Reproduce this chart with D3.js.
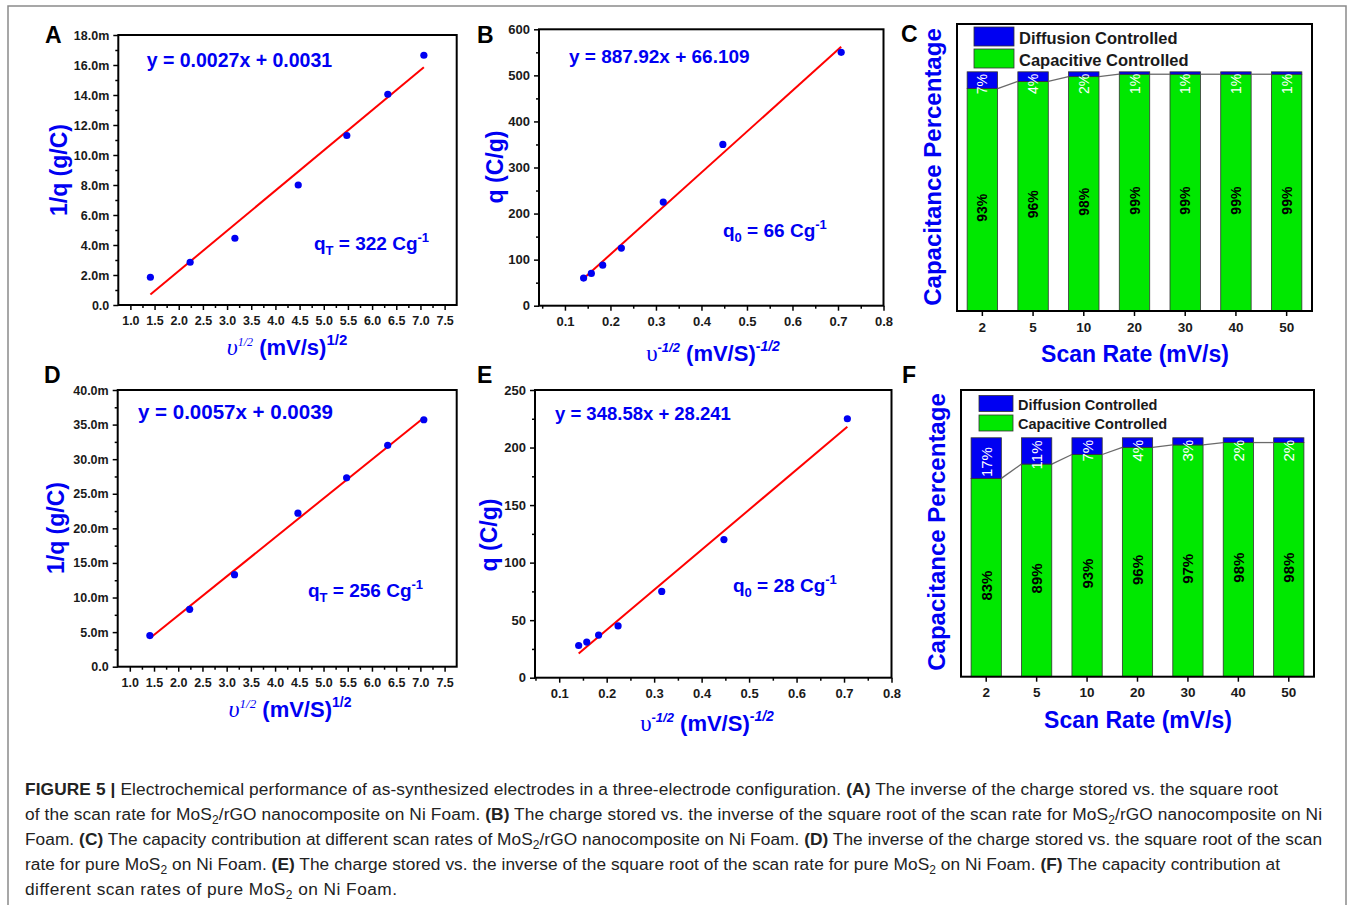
<!DOCTYPE html>
<html>
<head>
<meta charset="utf-8">
<script src="https://cdn.jsdelivr.net/npm/d3@7/dist/d3.min.js"></script>
<style>
body{margin:0;background:#fff;}
svg{display:block;font-family:"Liberation Sans",Arial,Helvetica,sans-serif;}
</style>
</head>
<body>
<script>
// ---- data ----
var scanRates = ["2","5","10","20","30","40","50"];
var sqrtRate = [1.414, 2.236, 3.162, 4.472, 5.477, 6.325, 7.071];     // v^1/2
var invSqrtRate = [0.707, 0.447, 0.316, 0.224, 0.183, 0.158, 0.141];  // v^-1/2

// A : 1/q (milli g/C) for MoS2/rGO
var invQ_A = [1.85, 2.85, 4.45, 8.0, 11.3, 14.05, 16.65];
var fitA = [[1.414, 0.7], [7.071, 15.85]];
// B : q (C/g) for MoS2/rGO
var q_B = [550, 350, 225, 125, 88, 70, 60];
var fitB = [[0.141, 59], [0.707, 562]];
// C : capacity contribution MoS2/rGO (%)
var diff_C = [7, 4, 2, 1, 1, 1, 1];
var cap_C = [93, 96, 98, 99, 99, 99, 99];
// D : 1/q (milli g/C) for pure MoS2
var invQ_D = [4.5, 8.3, 13.3, 22.2, 27.3, 32.0, 35.7];
var fitD = [[1.414, 4.1], [7.071, 36.0]];
// E : q (C/g) for pure MoS2
var q_E = [225, 120, 75, 45, 37, 31, 28];
var fitE = [[0.141, 21], [0.707, 218]];
// F : capacity contribution pure MoS2 (%)
var diff_F = [17, 11, 7, 4, 3, 2, 2];
var cap_F = [83, 89, 93, 96, 97, 98, 98];

// ticks
var xTicksSqrt = [1.0,1.5,2.0,2.5,3.0,3.5,4.0,4.5,5.0,5.5,6.0,6.5,7.0,7.5];
var xTicksInv = [0.1,0.2,0.3,0.4,0.5,0.6,0.7,0.8];
var yTicksA = [0,2,4,6,8,10,12,14,16,18];
var yTicksB = [0,100,200,300,400,500,600];
var yTicksD = [0,5,10,15,20,25,30,35,40];
var yTicksE = [0,50,100,150,200,250];

var BLUE = "#0000f2", RED = "#ff0000", GREEN = "#00e800", TXT = "#1a1a1a";

var svg = d3.select("body").append("svg")
	.attr("width",1354).attr("height",905);
svg.append("rect").attr("width",1354).attr("height",905).attr("fill","#fff");

// outer frame of the figure
svg.append("path").attr("d","M8,905V6H1346V905")
	.attr("fill","none").attr("stroke","#8a8a8a").attr("stroke-width",1.5);

//rich text helper: parts = [{t, sh, fs, it, ff, fw}]
function rich(t, parts){
	var cur = 0;
	parts.forEach(function(p){
		var s = t.append("tspan").text(p.t);
		var sh = p.sh || 0;
		if(sh !== cur){ s.attr("dy", sh-cur); cur = sh; }
		if(p.fs) s.attr("font-size", p.fs);
		if(p.it) s.attr("font-style","italic");
		if(p.ff) s.attr("font-family", p.ff);
		if(p.fw) s.attr("font-weight", p.fw);
	});
	return t;
}

function minorOf(ticks, step){
	var out = [];
	ticks.forEach(function(t){ out.push(t+step/2); });
	out.unshift(ticks[0]-step/2);
	return out;
}

function styleAxis(g, fs){
	g.select(".domain").remove();
	g.selectAll("line").attr("stroke","#000").attr("stroke-width",1.5);
	g.selectAll("text").attr("font-size",fs).attr("font-weight","bold").attr("fill",TXT).attr("font-family","Liberation Sans, Arial, sans-serif");
}

function scatterPanel(o){
	var g = svg.append("g");
	var x = d3.scaleLinear().domain(o.xDomain).range([o.left,o.right]);
	var y = d3.scaleLinear().domain(o.yDomain).range([o.bottom,o.top]);

	var xMin = minorOf(o.xTicks, o.xStep).filter(function(v){return v>o.xDomain[0]&&v<o.xDomain[1];});
	var yMin = minorOf(o.yTicks, o.yStep).filter(function(v){return v>o.yDomain[0]&&v<o.yDomain[1];});

	g.append("g").attr("transform","translate(0,"+o.bottom+")")
		.call(d3.axisBottom(x).tickValues(xMin).tickSize(3).tickFormat(""))
		.call(styleAxis, o.tickFs);
	g.append("g").attr("transform","translate(0,"+o.bottom+")")
		.call(d3.axisBottom(x).tickValues(o.xTicks).tickSize(5).tickPadding(6).tickFormat(d3.format(".1f")))
		.call(styleAxis, o.tickFs);
	g.append("g").attr("transform","translate("+o.left+",0)")
		.call(d3.axisLeft(y).tickValues(yMin).tickSize(3).tickFormat(""))
		.call(styleAxis, o.tickFs);
	g.append("g").attr("transform","translate("+o.left+",0)")
		.call(d3.axisLeft(y).tickValues(o.yTicks).tickSize(5).tickPadding(4).tickFormat(o.yFmt))
		.call(styleAxis, o.tickFs);

	g.append("rect")
		.attr("x",o.left).attr("y",o.top)
		.attr("width",o.right-o.left).attr("height",o.bottom-o.top)
		.attr("fill","none").attr("stroke","#000").attr("stroke-width",2);

	g.append("path").datum(o.fit)
		.attr("d", d3.line().x(function(d){return x(d[0]);}).y(function(d){return y(d[1]);}))
		.attr("stroke",RED).attr("stroke-width",2).attr("fill","none");

	g.selectAll("circle.pt").data(d3.zip(o.xs,o.ys)).enter()
		.append("circle").attr("class","pt")
		.attr("cx",function(d){return x(d[0]);})
		.attr("cy",function(d){return y(d[1]);})
		.attr("r",3.6).attr("fill",BLUE);

	// equation + q label
	g.append("text").attr("x",o.eq.x).attr("y",o.eq.y)
		.attr("font-size",o.eq.fs).attr("font-weight","bold").attr("fill",BLUE)
		.text(o.eq.t);
	rich(g.append("text").attr("x",o.q.x).attr("y",o.q.y)
		.attr("font-size",19).attr("font-weight","bold").attr("fill",BLUE), [
		{t:"q"},{t:o.q.sub,fs:13,sh:5},{t:" = "+o.q.val+" Cg"},{t:"-1",fs:13,sh:-8}
	]);

	// titles
	g.append("text").attr("transform","translate("+o.yTitle.x+","+o.yTitle.y+") rotate(-90)")
		.attr("text-anchor","middle").attr("font-size",23).attr("font-weight","bold").attr("fill",BLUE)
		.text(o.yTitle.t);
	rich(g.append("text").attr("x",o.xTitle.x).attr("y",o.xTitle.y)
		.attr("text-anchor","middle").attr("font-size",22).attr("font-weight","bold").attr("fill",BLUE), o.xTitle.parts);

	g.append("text").attr("x",o.letter.x).attr("y",o.letter.y)
		.attr("font-size",23).attr("font-weight","bold").attr("fill","#000").text(o.letter.t);
}

function barPanel(o){
	var g = svg.append("g");
	var x = d3.scaleBand().domain(scanRates).range([o.left,o.right]).paddingInner(0.4).paddingOuter(0.2);
	var y = d3.scaleLinear().domain([0,120]).range([o.bottom,o.top]);
	var rows = scanRates.map(function(r,i){ return {rate:r, cap:o.cap[i], diff:o.diff[i]}; });
	var series = d3.stack().keys(["cap","diff"])(rows);
	var colors = {cap:GREEN, diff:BLUE};
	var bw = x.bandwidth();

	g.append("g").attr("transform","translate(0,"+o.bottom+")")
		.call(d3.axisBottom(x).tickSize(5).tickPadding(6))
		.call(styleAxis, 13.5);

	series.forEach(function(s){
		g.selectAll("rect."+s.key).data(s).enter().append("rect")
			.attr("class",s.key)
			.attr("x",function(d){return x(d.data.rate);})
			.attr("y",function(d){return y(Math.min(d[1],100));})
			.attr("width",bw)
			.attr("height",function(d){return y(d[0])-y(Math.min(d[1],100));})
			.attr("fill",colors[s.key]).attr("stroke","#333").attr("stroke-width",0.8);
	});

	// connecting line between capacitive tops
	for(var i=0;i<rows.length-1;i++){
		g.append("line")
			.attr("x1",x(rows[i].rate)+bw).attr("y1",y(rows[i].cap))
			.attr("x2",x(rows[i+1].rate)).attr("y2",y(rows[i+1].cap))
			.attr("stroke","#6a6a6a").attr("stroke-width",1.3);
	}

	// percentage labels
	rows.forEach(function(d){
		var cx = x(d.rate)+bw/2;
		var mid = (y(0)+y(d.cap))/2 + 8;
		g.append("text").attr("transform","translate("+cx+","+mid+") rotate(-90)")
			.attr("text-anchor","middle").attr("dominant-baseline","central")
			.attr("font-size",o.pctFs).attr("font-weight","bold").attr("fill","#000")
			.text(d.cap+"%");
		var t = g.append("text")
			.attr("text-anchor","end").attr("dominant-baseline","central")
			.attr("font-size",o.pctFs).attr("fill","#fff")
			.text(d.diff+"%");
		var len = t.node().getComputedTextLength();
		var top = y(100);
		var segMid = (y(d.cap)+top)/2;
		var yEnd = Math.max(top+2, segMid-len/2+4);
		t.attr("transform","translate("+cx+","+yEnd+") rotate(-90)");
	});

	g.append("rect")
		.attr("x",o.left).attr("y",o.top)
		.attr("width",o.right-o.left).attr("height",o.bottom-o.top)
		.attr("fill","none").attr("stroke","#000").attr("stroke-width",2);

	// legend
	var lg = o.legend;
	[["Diffusion Controlled",BLUE],["Capacitive Controlled",GREEN]].forEach(function(e,k){
		g.append("rect").attr("x",lg.x).attr("y",lg.y+k*lg.dy)
			.attr("width",lg.w).attr("height",lg.h)
			.attr("fill",e[1]).attr("stroke","#333").attr("stroke-width",0.8);
		g.append("text").attr("x",lg.x+lg.w+5).attr("y",lg.y+k*lg.dy+lg.h-2)
			.attr("font-size",lg.fs).attr("font-weight","bold").attr("fill",TXT).text(e[0]);
	});

	g.append("text").attr("transform","translate("+o.yTitle.x+","+o.yTitle.y+") rotate(-90)")
		.attr("text-anchor","middle").attr("font-size",24).attr("font-weight","bold").attr("fill",BLUE)
		.text("Capacitance Percentage");
	g.append("text").attr("x",o.xTitle.x).attr("y",o.xTitle.y)
		.attr("text-anchor","middle").attr("font-size",23).attr("font-weight","bold").attr("fill",BLUE)
		.text("Scan Rate (mV/s)");
	g.append("text").attr("x",o.letter.x).attr("y",o.letter.y)
		.attr("font-size",23).attr("font-weight","bold").attr("fill","#000").text(o.letter.t);
}

var SERIF = "Liberation Serif, DejaVu Serif, serif";
function milli(v){ return v===0 ? "0.0" : d3.format(".1f")(v)+"m"; }

scatterPanel({
	left:118.3,right:456.7,top:35,bottom:305,
	xDomain:[0.75,7.75], yDomain:[0,18],
	xTicks:xTicksSqrt, xStep:0.5, yTicks:yTicksA, yStep:2,
	yFmt:milli, tickFs:12.5,
	xs:sqrtRate, ys:invQ_A, fit:fitA,
	eq:{t:"y = 0.0027x + 0.0031",x:146.7,y:67,fs:19.5},
	q:{x:314,y:250,sub:"T",val:"322"},
	yTitle:{t:"1/q (g/C)",x:67,y:170},
	xTitle:{x:287,y:355,parts:[
		{t:"\u03c5",ff:SERIF,it:true,fw:"normal",fs:24},{t:"1/2",fs:12,sh:-9,it:true,ff:SERIF,fw:"normal"},
		{t:" (mV/s)"},{t:"1/2",fs:15,sh:-10}]},
	letter:{t:"A",x:45,y:43}
});

scatterPanel({
	left:539,right:883.5,top:29.3,bottom:305.7,
	xDomain:[0.043,0.8], yDomain:[0,600],
	xTicks:xTicksInv, xStep:0.1, yTicks:yTicksB, yStep:100,
	yFmt:d3.format("d"), tickFs:13,
	xs:invSqrtRate, ys:q_B, fit:fitB,
	eq:{t:"y = 887.92x + 66.109",x:569,y:63,fs:19},
	q:{x:723,y:237,sub:"0",val:"66"},
	yTitle:{t:"q (C/g)",x:503,y:167},
	xTitle:{x:713,y:361,parts:[
		{t:"\u03c5",ff:SERIF,fw:"normal",fs:23},{t:"-1/2",fs:13,sh:-9,it:true},
		{t:" (mV/S)"},{t:"-1/2",fs:14,sh:-10,it:true}]},
	letter:{t:"B",x:477,y:43}
});

barPanel({
	left:957,right:1312,top:24,bottom:311,
	cap:cap_C, diff:diff_C, pctFs:14,
	legend:{x:974,y:27,w:40,h:19,dy:22,fs:16.5},
	yTitle:{x:941,y:167},
	xTitle:{x:1135,y:362},
	letter:{t:"C",x:901,y:42}
});

scatterPanel({
	left:117.7,right:456.7,top:390,bottom:666.7,
	xDomain:[0.75,7.75], yDomain:[0,40],
	xTicks:xTicksSqrt, xStep:0.5, yTicks:yTicksD, yStep:5,
	yFmt:milli, tickFs:12.5,
	xs:sqrtRate, ys:invQ_D, fit:fitD,
	eq:{t:"y = 0.0057x + 0.0039",x:138,y:419,fs:20.5},
	q:{x:308,y:597,sub:"T",val:"256"},
	yTitle:{t:"1/q (g/C)",x:64,y:528},
	xTitle:{x:290,y:717,parts:[
		{t:"\u03c5",ff:SERIF,it:true,fw:"normal",fs:24},{t:"1/2",fs:13,sh:-9,it:true,ff:SERIF,fw:"normal"},
		{t:" (mV/S)"},{t:"1/2",fs:14,sh:-10}]},
	letter:{t:"D",x:44,y:383}
});

scatterPanel({
	left:535,right:891.5,top:390,bottom:677.7,
	xDomain:[0.049,0.8], yDomain:[0,250],
	xTicks:xTicksInv, xStep:0.1, yTicks:yTicksE, yStep:50,
	yFmt:d3.format("d"), tickFs:13,
	xs:invSqrtRate, ys:q_E, fit:fitE,
	eq:{t:"y = 348.58x + 28.241",x:555,y:420,fs:18.5},
	q:{x:733,y:592,sub:"0",val:"28"},
	yTitle:{t:"q (C/g)",x:497,y:535},
	xTitle:{x:707,y:731,parts:[
		{t:"\u03c5",ff:SERIF,fw:"normal",fs:23},{t:"-1/2",fs:13,sh:-9,it:true},
		{t:" (mV/S)"},{t:"-1/2",fs:14,sh:-10,it:true}]},
	letter:{t:"E",x:477,y:383}
});

barPanel({
	left:961,right:1314,top:390,bottom:676.7,
	cap:cap_F, diff:diff_F, pctFs:15,
	legend:{x:979,y:395.5,w:34,h:16,dy:19.5,fs:14.5},
	yTitle:{x:945,y:532},
	xTitle:{x:1138,y:728},
	letter:{t:"F",x:902,y:383}
});

// ---- caption ----
var captionLines = [
	"**FIGURE 5 |** Electrochemical performance of as-synthesized electrodes in a three-electrode configuration. **(A)** The inverse of the charge stored vs. the square root",
	"of the scan rate for MoS_2/rGO nanocomposite on Ni Foam. **(B)** The charge stored vs. the inverse of the square root of the scan rate for MoS_2/rGO nanocomposite on Ni",
	"Foam. **(C)** The capacity contribution at different scan rates of MoS_2/rGO nanocomposite on Ni Foam. **(D)** The inverse of the charge stored vs. the square root of the scan",
	"rate for pure MoS_2 on Ni Foam. **(E)** The charge stored vs. the inverse of the square root of the scan rate for pure MoS_2 on Ni Foam. **(F)** The capacity contribution at",
	"different scan rates of pure MoS_2 on Ni Foam."
];
var captionWidths = [1253, 1297, 1297, 1255, 372];
var captionY = [795, 820, 845, 870, 894.5];

captionLines.forEach(function(line,i){
	var t = svg.append("text").attr("x",25).attr("y",captionY[i])
		.attr("font-size",17.3).attr("fill","#222");
	var parts = [];
	line.split(/(\*\*.*?\*\*|_2)/).forEach(function(s){
		if(!s) return;
		if(s.indexOf("**")===0) parts.push({t:s.slice(2,-2),fw:"bold"});
		else if(s==="_2") parts.push({t:"2",fs:12,sh:4});
		else parts.push({t:s});
	});
	rich(t, parts);
	t.attr("textLength",captionWidths[i]).attr("lengthAdjust","spacing");
});
</script>
</body>
</html>
